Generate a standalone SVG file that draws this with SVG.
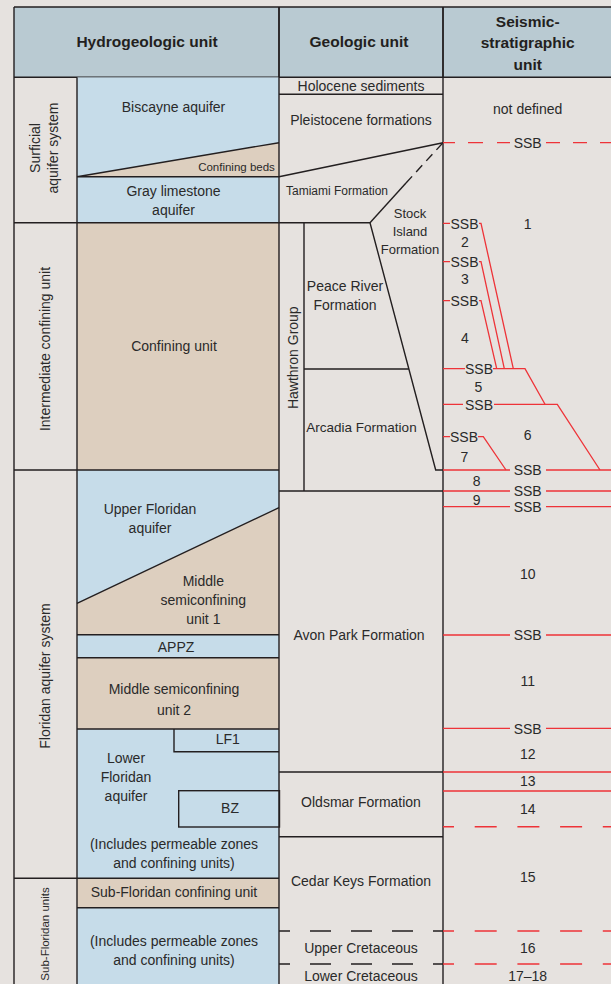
<svg xmlns="http://www.w3.org/2000/svg" width="611" height="984" viewBox="0 0 611 984">
<style>
text{font-family:"Liberation Sans","Arial",sans-serif;fill:#2a2a2a;font-size:14px;text-anchor:middle}
.h{font-weight:bold;font-size:15.5px;fill:#231f20}
.s{font-size:12px}
.m{font-size:13px}
.xs{font-size:11.5px}
.k{fill:none;stroke:#231f20;stroke-width:1.4}
.kd{fill:none;stroke:#231f20;stroke-width:1.3;stroke-dasharray:21 20;stroke-dashoffset:10}
.r{fill:none;stroke:#ee3338;stroke-width:1.3}
.rd{fill:none;stroke:#ee3338;stroke-width:1.5;stroke-dasharray:22 20.7;stroke-dashoffset:11}
.blue{fill:#c6dce9}
.tan{fill:#ddcfbf}
</style>
<rect x="0" y="0" width="611" height="984" fill="#e6e2df"/>
<g id="header">
<rect x="14" y="7" width="597" height="70.3" fill="#b9cad2"/>
<path class="k" d="M14,7 H611 M14,77.3 H611 M279,7 V77.3 M443,7 V77.3"/>
<text class="h" x="147" y="47">Hydrogeologic unit</text>
<text class="h" x="359" y="47">Geologic unit</text>
<text class="h" x="527.7" y="27">Seismic-</text>
<text class="h" x="527.7" y="48">stratigraphic</text>
<text class="h" x="527.7" y="70">unit</text>
</g>
<g id="hydro-fills">
<rect class="blue" x="77" y="77.3" width="202" height="145.4"/>
<polygon class="tan" points="77,176.7 279,142.7 279,176.7"/>
<rect class="tan" x="77" y="222.7" width="202" height="247.3"/>
<rect class="blue" x="77" y="470" width="202" height="164.7"/>
<polygon class="tan" points="77,603.3 279,507.7 279,634.7 77,634.7"/>
<rect class="blue" x="77" y="634.7" width="202" height="23"/>
<rect class="tan" x="77" y="657.7" width="202" height="71.3"/>
<rect class="blue" x="77" y="729" width="202" height="149.3"/>
<rect class="tan" x="77" y="878.3" width="202" height="29.4"/>
<rect class="blue" x="77" y="907.7" width="202" height="76.3"/>
</g>
<g id="frame-lines">
<path class="k" d="M14,7 V984 M77,77.3 V984 M279,7 V984 M443,7 V984"/>
<path class="k" d="M14,222.7 H279 M14,470 H279 M14,878.3 H279"/>
<path class="k" d="M77,176.7 H279 M77,176.7 L279,142.7 M77,603.3 L279,507.7 M77,634.7 H279 M77,657.7 H279 M77,729 H279 M77,907.7 H279"/>
</g>
<g id="surficial">
<text transform="translate(35,148) rotate(-90)" y="5">Surficial</text>
<text transform="translate(53,148) rotate(-90)" y="5">aquifer system</text>
</g>
<g id="biscayne"><text x="173.5" y="112">Biscayne aquifer</text></g>
<g id="confining-beds"><text class="xs" x="236.5" y="171">Confining beds</text></g>
<g id="gray-limestone"><text x="173.5" y="195.5">Gray limestone</text><text x="173.5" y="215">aquifer</text></g>
<g id="intermediate"><text transform="translate(45,349) rotate(-90)" y="5">Intermediate confining unit</text></g>
<g id="confining-unit"><text x="174" y="350.5">Confining unit</text></g>
<g id="floridan"><text transform="translate(45,676) rotate(-90)" y="5">Floridan aquifer system</text></g>
<g id="upper-floridan"><text x="150" y="514">Upper Floridan</text><text x="150" y="533">aquifer</text></g>
<g id="msu1"><text x="203.3" y="585.5">Middle</text><text x="203.3" y="604.5">semiconfining</text><text x="203.3" y="623.5">unit 1</text></g>
<g id="appz"><text x="176" y="652">APPZ</text></g>
<g id="msu2"><text x="174" y="694">Middle semiconfining</text><text x="174" y="714.5">unit 2</text></g>
<g id="lf1"><path class="k" d="M174,729 V751.7 H279"/><text x="227.7" y="744">LF1</text></g>
<g id="lower-floridan"><text x="126" y="763">Lower</text><text x="126" y="781.5">Floridan</text><text x="126" y="801">aquifer</text>
<text x="174" y="849">(Includes permeable zones</text><text x="174" y="868">and confining units)</text></g>
<g id="bz"><rect class="k" x="178.7" y="790.7" width="100.8" height="36.3"/><text x="230" y="812.5">BZ</text></g>
<g id="sub-floridan"><text transform="translate(45,934) rotate(-90)" y="4" class="xs">Sub-Floridan units</text></g>
<g id="sub-floridan-confining"><text x="174" y="897">Sub-Floridan confining unit</text></g>
<g id="sub-floridan-lower"><text x="174" y="946">(Includes permeable zones</text><text x="174" y="965">and confining units)</text></g>
<g id="geologic-lines">
<path class="k" d="M279,94.3 H443 M279,176.7 L443,142.7 M279,222.7 H370 L435.7,470 H443 M304,222.7 V491 M304,369 H409 M279,491 H443 M279,772 H443 M279,836.7 H443"/>
<path class="k" d="M370,222.7 L406,183"/>
<path class="k" d="M406,183 L443,142.7" stroke-dasharray="9 6"/>
<path class="kd" d="M279,931 H443 M279,964 H443"/>
</g>
<g id="holocene"><text x="361" y="91">Holocene sediments</text></g>
<g id="pleistocene"><text x="361" y="125">Pleistocene formations</text></g>
<g id="tamiami"><text class="s" x="337" y="194.5">Tamiami Formation</text></g>
<g id="stock-island"><text class="m" x="410" y="217.5">Stock</text><text class="m" x="410" y="235.5">Island</text><text class="m" x="410" y="253.5">Formation</text></g>
<g id="hawthorn"><text transform="translate(293,357.7) rotate(-90)" y="5">Hawthron Group</text></g>
<g id="peace-river"><text x="345" y="291">Peace River</text><text x="345" y="310">Formation</text></g>
<g id="arcadia"><text x="361.5" y="431.5" style="font-size:13.5px">Arcadia Formation</text></g>
<g id="avon-park"><text x="359" y="640">Avon Park Formation</text></g>
<g id="oldsmar"><text x="361" y="806.5">Oldsmar Formation</text></g>
<g id="cedar-keys"><text x="361" y="885.5">Cedar Keys Formation</text></g>
<g id="upper-cretaceous"><text x="361" y="952.5">Upper Cretaceous</text></g>
<g id="lower-cretaceous"><text x="361" y="980.5">Lower Cretaceous</text></g>
<g id="seismic-lines">
<path class="r" d="M443,142.7 H455 M468,142.7 H483 M497,142.7 H510 M546,142.7 H560 M573,142.7 H587 M600,142.7 H611" stroke-width="1.5"/>
<path class="r" d="M443,223.3 H450 M479,223.3 H481 L513.3,368.7"/>
<path class="r" d="M443,261.7 H450 M479,261.7 H481 L504.3,368.7"/>
<path class="r" d="M443,300.7 H450 M479,300.7 H481 L496.7,368.7"/>
<path class="r" d="M443,368.7 H465 M493,368.7 H525 L545,404.3"/>
<path class="r" d="M443,404.3 H463 M494,404.3 H557.3 L600,470"/>
<path class="r" d="M443,436.7 H450 M478,436.7 H483.3 L506,470"/>
<path class="r" d="M443,470 H510 M546,470 H611"/>
<path class="r" d="M443,491 H510 M546,491 H611"/>
<path class="r" d="M443,506.7 H510 M546,506.7 H611"/>
<path class="r" d="M443,635 H510 M546,635 H611"/>
<path class="r" d="M443,728.3 H510 M546,728.3 H611"/>
<path class="r" d="M443,772 H611 M443,791 H611"/>
<path class="rd" d="M443,826.7 H611 M443,931 H611 M443,964 H611"/>
</g>
<g id="seismic-labels">
<text x="527.7" y="113.5">not defined</text>
<text x="527.7" y="148">SSB</text>
<text x="464.5" y="228.5">SSB</text>
<text x="527.7" y="228.5">1</text>
<text x="465" y="247">2</text>
<text x="464.5" y="267">SSB</text>
<text x="465" y="283.5">3</text>
<text x="464.5" y="306">SSB</text>
<text x="465" y="343">4</text>
<text x="479" y="374">SSB</text>
<text x="478.3" y="392">5</text>
<text x="479" y="409.5">SSB</text>
<text x="527.7" y="440">6</text>
<text x="464" y="442">SSB</text>
<text x="464.3" y="462">7</text>
<text x="527.7" y="475">SSB</text>
<text x="476.7" y="486">8</text>
<text x="527.7" y="496">SSB</text>
<text x="476.7" y="505">9</text>
<text x="527.7" y="511.5">SSB</text>
<text x="527.7" y="579">10</text>
<text x="527.7" y="640">SSB</text>
<text x="527.7" y="686">11</text>
<text x="527.7" y="733.5">SSB</text>
<text x="527.7" y="759">12</text>
<text x="527.7" y="785.5">13</text>
<text x="527.7" y="814">14</text>
<text x="527.7" y="881.5">15</text>
<text x="527.7" y="952.5">16</text>
<text x="527.7" y="980.5">17–18</text>
</g>
</svg>
